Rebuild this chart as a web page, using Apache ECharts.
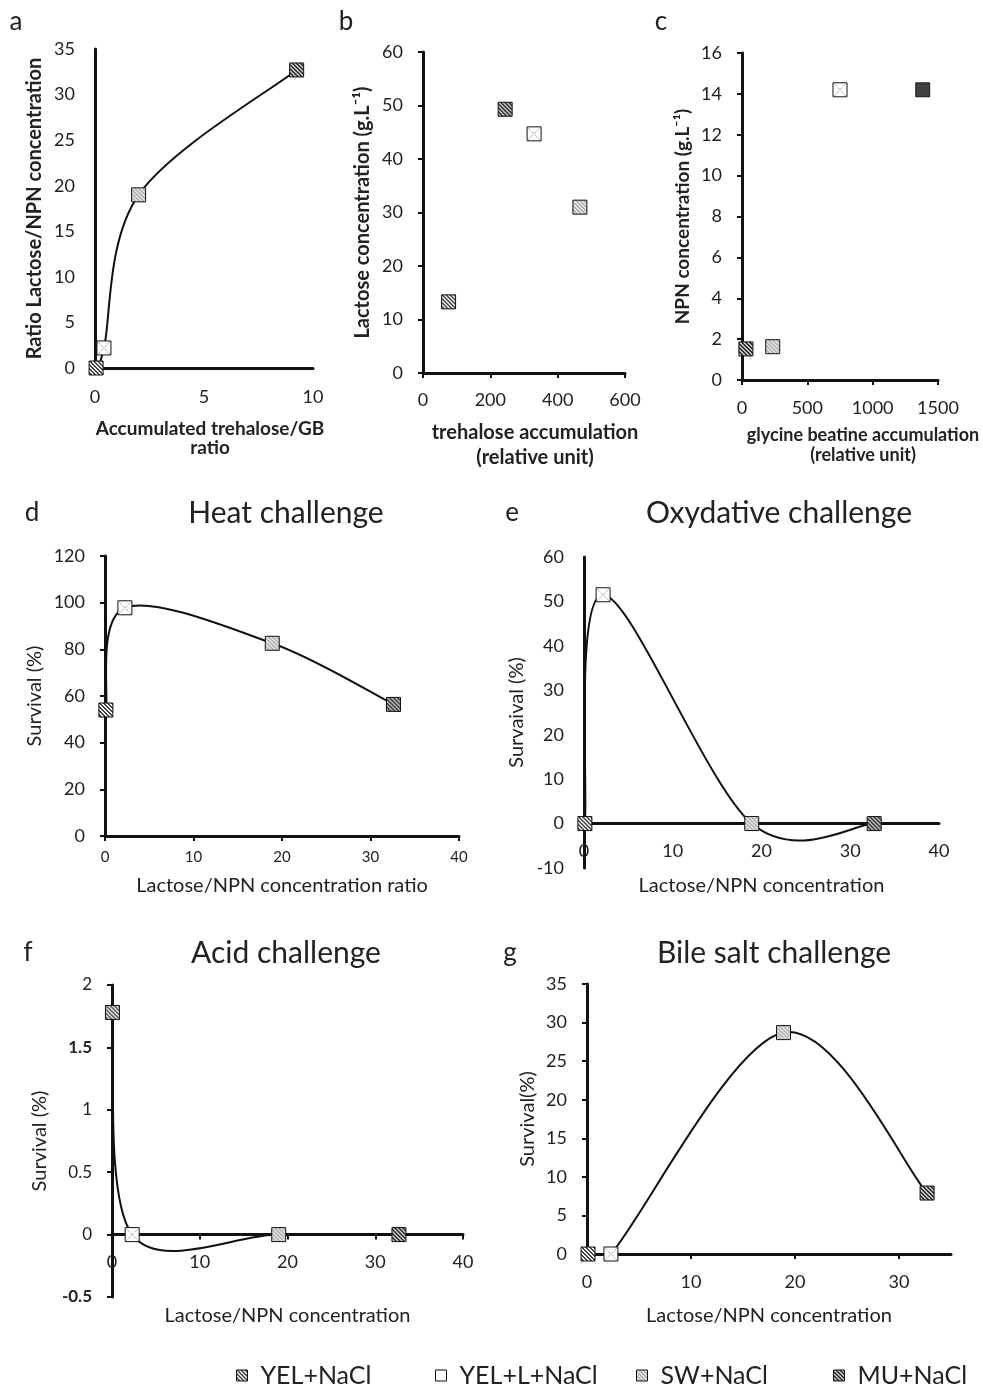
<!DOCTYPE html>
<html><head><meta charset="utf-8">
<script src="https://cdn.jsdelivr.net/npm/echarts@6/dist/echarts.min.js"></script>
<style>html,body{margin:0;padding:0;background:#fff}#chart{width:983px;height:1387px}</style>
</head><body><div id="chart"></div>
<script>
// ---------- DATA ----------
const groups = ['YEL+NaCl', 'YEL+L+NaCl', 'SW+NaCl', 'MU+NaCl'];
// order of values in each panel array: YEL+NaCl, YEL+L+NaCl, SW+NaCl, MU+NaCl
const aX = [0.05, 0.41, 2.0, 9.25];
const aY = [0, 2.2, 19.0, 32.7];
const bX = [76, 330, 466, 244];
const bY = [13.3, 44.7, 31.0, 49.3];
const cX = [null, 750, 235, 30];
const cY = [null, 14.2, 1.63, 1.52];
const cBlackX = [1383];
const cBlackY = [14.2];
const dX = [0.1, 2.25, 18.9, 32.6];
const dY = [54, 97.8, 82.6, 56.4];
const eX = [0.1, 2.15, 18.9, 32.7];
const eY = [0, 51.5, 0, 0];
const fX = [0.05, 2.3, 19.0, 32.7];
const fY = [1.78, 0, 0, 0];
const gX = [0.1, 2.3, 18.9, 32.7];
const gY = [0, 0, 28.7, 7.9];
const gXTicks = [0, 10, 20, 30];
const fBoldLabels = ['1.5', '-0.5'];

const panelLetters = ['a', 'b', 'c', 'd', 'e', 'f', 'g'];
const panelTitles = ['', '', '', 'Heat challenge', 'Oxydative challenge', 'Acid challenge', 'Bile salt challenge'];
const xNames = ['Accumulated trehalose/GB\nratio', 'trehalose accumulation\n(relative unit)', 'glycine beatine accumulation\n(relative unit)',
  'Lactose/NPN concentration ratio', 'Lactose/NPN concentration', 'Lactose/NPN concentration', 'Lactose/NPN concentration'];
const yNames = ['Ratio Lactose/NPN concentration', 'Lactose concentration (g.L\u207B\u00B9)', 'NPN concentration (g.L\u207B\u00B9)',
  'Survival (%)', 'Survaival (%)', 'Survival (%)', 'Survival(%)'];

// ---------- STYLE ----------
const FONT = 'Lato';
const SYM = 14;
function mkPattern(bg, fg, scale) {
  const c = document.createElement('canvas');
  c.width = 4; c.height = 4;
  const ctx = c.getContext('2d');
  ctx.fillStyle = bg; ctx.fillRect(0, 0, 4, 4);
  ctx.fillStyle = fg;
  for (let i = 0; i < 4; i++) { ctx.fillRect(i, i, 1, 1); ctx.fillRect((i + 1) % 4, i, 1, 1); }
  return { image: c, repeat: 'repeat', scaleX: scale, scaleY: scale };
}
const fillSpec = [['#ffffff', '#3a3a3a'], null, ['#a9a9a9', '#ececec'], ['#262626', '#cfcfcf']];
const symPatterns = fillSpec.map(f => f ? mkPattern(f[0], f[1], 2 / SYM) : '#ffffff');
const legPatterns = fillSpec.map(f => f ? mkPattern(f[0], f[1], 1) : '#ffffff');

const grids = [
  { left: 95, top: 49, width: 218, height: 319 },
  { left: 423, top: 52, width: 202, height: 321 },
  { left: 742, top: 53, width: 196, height: 327 },
  { left: 105, top: 556, width: 354, height: 280 },
  { left: 584, top: 557, width: 355, height: 311 },
  { left: 112, top: 985, width: 351, height: 312 },
  { left: 587, top: 984, width: 364, height: 270 }
];
const xRange = [[0, 10, 5], [0, 600, 200], [0, 1500, 500], [0, 40, 10], [0, 40, 10], [0, 40, 10], [0, 35, 10]];
const yRange = [[0, 35, 5], [0, 60, 10], [0, 16, 2], [0, 120, 20], [-10, 60, 10], [-0.5, 2, 0.5], [0, 35, 5]];
const xTickShow = [false, true, true, true, false, true, true];
const yTickShow = [false, true, true, true, false, true, true];
const xLabelSize = [18, 18, 18, 15, 18, 18, 18];
const yLabelSize = [18, 18, 18, 18, 18, 17, 18];
const xLabelMargin = [20, 18, 19, 14, 19, 19, 19];
const nameBold = [true, true, true, false, false, false, false];
const xNameGap = [51, 47, 45, 38, 50, 69, 50];
const xNameLH = [19, 25, 20, 24, 24, 24, 24];
const xNamePad = [12, 22, 46, 0, 0, 0, 0];
const xNameSize = [19, 20, 18, 20, 20, 20, 20];
const yNameGap = [50, 50, 50, 60, 57, 62, 49];
const yNameSize = [20, 20, 19, 20, 20, 20, 20];

const xAxis = grids.map((g, i) => {
  const yr = yRange[i];
  const off = yr[0] < 0 ? -g.height * (0 - yr[0]) / (yr[1] - yr[0]) : 0;
  return {
    type: 'value', gridIndex: i, min: xRange[i][0], max: xRange[i][1], interval: xRange[i][2],
    offset: off,
    splitLine: { show: false },
    axisLine: { onZero: false, lineStyle: { color: '#111', width: 3 } },
    axisTick: Object.assign({ show: xTickShow[i], length: 5, lineStyle: { color: '#111', width: 2 } }, i === 6 ? { customValues: gXTicks } : {}),
    axisLabel: Object.assign({ fontFamily: FONT, fontSize: xLabelSize[i], color: '#222', margin: xLabelMargin[i], formatter: v => String(v) }, i === 6 ? { customValues: gXTicks } : {}),
    name: xNames[i], nameLocation: 'middle', nameGap: xNameGap[i], nameMoveOverlap: false,
    nameTextStyle: { fontFamily: FONT, fontSize: xNameSize[i], fontWeight: nameBold[i] ? 'bold' : 'normal', color: '#222', lineHeight: xNameLH[i], padding: [0, 0, 0, xNamePad[i]] }
  };
});
const yAxis = grids.map((g, i) => ({
  type: 'value', gridIndex: i, min: yRange[i][0], max: yRange[i][1], interval: yRange[i][2],
  splitLine: { show: false },
  axisLine: { show: true, onZero: false, lineStyle: { color: '#111', width: 3 } },
  axisTick: { show: yTickShow[i], length: 5, lineStyle: { color: '#111', width: 2 } },
  axisLabel: i === 5 ? {
    fontFamily: FONT, fontSize: yLabelSize[i], color: '#222', margin: 20,
    formatter: v => { const s = String(v); return fBoldLabels.indexOf(s) >= 0 ? '{b|' + s + '}' : s; },
    rich: { b: { fontFamily: FONT, fontSize: yLabelSize[i], fontWeight: 'bold', color: '#222' } }
  } : { fontFamily: FONT, fontSize: yLabelSize[i], color: '#222', margin: 20 },
  name: yNames[i], nameLocation: 'middle', nameRotate: 90, nameGap: yNameGap[i], nameMoveOverlap: false,
  nameTextStyle: { fontFamily: FONT, fontSize: yNameSize[i], fontWeight: nameBold[i] ? 'bold' : 'normal', color: '#222' }
}));

const series = [];
const panelX = [aX, bX, cX, dX, eX, fX, gX];
const panelY = [aY, bY, cY, dY, eY, fY, gY];
const curvePanels = [0, 3, 4, 5, 6];
// smoothed (Catmull-Rom style) curve through the data points, drawn in pixel space via the axes
curvePanels.forEach(p => {
  const pts = panelX[p].map((x, k) => [x, panelY[p][k]]).sort((u, v) => u[0] - v[0]);
  series.push({
    type: 'custom', name: 'curve' + p, xAxisIndex: p, yAxisIndex: p, data: pts, silent: true, z: 2, clip: true,
    encode: { x: 0, y: 1 },
    renderItem: function (params, api) {
      const i = params.dataIndex;
      if (i >= pts.length - 1) return null;
      const P = k => api.coord(pts[Math.max(0, Math.min(pts.length - 1, k))]);
      const p0 = P(i - 1), p1 = P(i), p2 = P(i + 1), p3 = P(i + 2);
      const t = 1 / 6;
      return {
        type: 'bezierCurve',
        shape: {
          x1: p1[0], y1: p1[1], x2: p2[0], y2: p2[1],
          cpx1: p1[0] + (p2[0] - p0[0]) * t, cpy1: p1[1] + (p2[1] - p0[1]) * t,
          cpx2: p2[0] - (p3[0] - p1[0]) * t, cpy2: p2[1] - (p3[1] - p1[1]) * t
        },
        style: { stroke: '#111', lineWidth: 2, fill: null }
      };
    }
  });
});
panelX.forEach((xs, p) => {
  groups.forEach((gname, k) => {
    if (xs[k] === null) return;
    series.push({ type: 'scatter', name: gname, xAxisIndex: p, yAxisIndex: p, data: [[xs[k], panelY[p][k]]],
      symbol: 'rect', symbolSize: SYM, itemStyle: { color: symPatterns[k], borderColor: '#111', borderWidth: 1, opacity: 1 }, z: 4 });
    if (k === 1) {
      series.push({ type: 'scatter', name: 'xmark', xAxisIndex: p, yAxisIndex: p, data: [[xs[k], panelY[p][k]]],
        symbol: 'path://M0,0L10,10M10,0L0,10', symbolSize: SYM - 2, itemStyle: { color: 'none', borderColor: '#666', borderWidth: 1, borderType: 'dotted' }, z: 5, silent: true });
    }
  });
});
series.push({ type: 'scatter', name: 'black', xAxisIndex: 2, yAxisIndex: 2, data: cBlackX.map((x, k) => [x, cBlackY[k]]),
  symbol: 'rect', symbolSize: SYM, itemStyle: { color: '#111', borderColor: '#000', borderWidth: 1 }, z: 4 });

const legendLeft = [231, 430, 631, 828];
const legend = groups.map((g, i) => ({
  data: [{ name: g, itemStyle: { color: legPatterns[i], borderColor: '#111', borderWidth: 1 } }],
  left: legendLeft[i], top: 1358, icon: 'rect', itemWidth: 11, itemHeight: 11, selectedMode: false,
  textStyle: { fontFamily: FONT, fontSize: 25, color: '#222', padding: [0, 0, 0, 8] }
}));

const letterPos = [[16, 22], [346, 22], [661, 22], [32, 513], [512, 513], [28, 953], [510, 953]];
const titlePos = [null, null, null, [286, 513], [779, 513], [286, 953], [774, 953]];
const graphic = [];
panelLetters.forEach((l, i) => {
  graphic.push({ type: 'text', x: letterPos[i][0], y: letterPos[i][1],
    style: { text: l, font: '26px ' + FONT, fill: '#222', textAlign: 'center', textVerticalAlign: 'middle' } });
  if (titlePos[i]) graphic.push({ type: 'text', x: titlePos[i][0], y: titlePos[i][1],
    style: { text: panelTitles[i], font: '30px ' + FONT, fill: '#222', textAlign: 'center', textVerticalAlign: 'middle' } });
});

const chart = echarts.init(document.getElementById('chart'), null, { renderer: 'canvas' });
chart.setOption({
  backgroundColor: '#fff', animation: false,
  grid: grids.map(g => Object.assign({ containLabel: false }, g)),
  xAxis, yAxis, series, legend, graphic
});
</script></body></html>
